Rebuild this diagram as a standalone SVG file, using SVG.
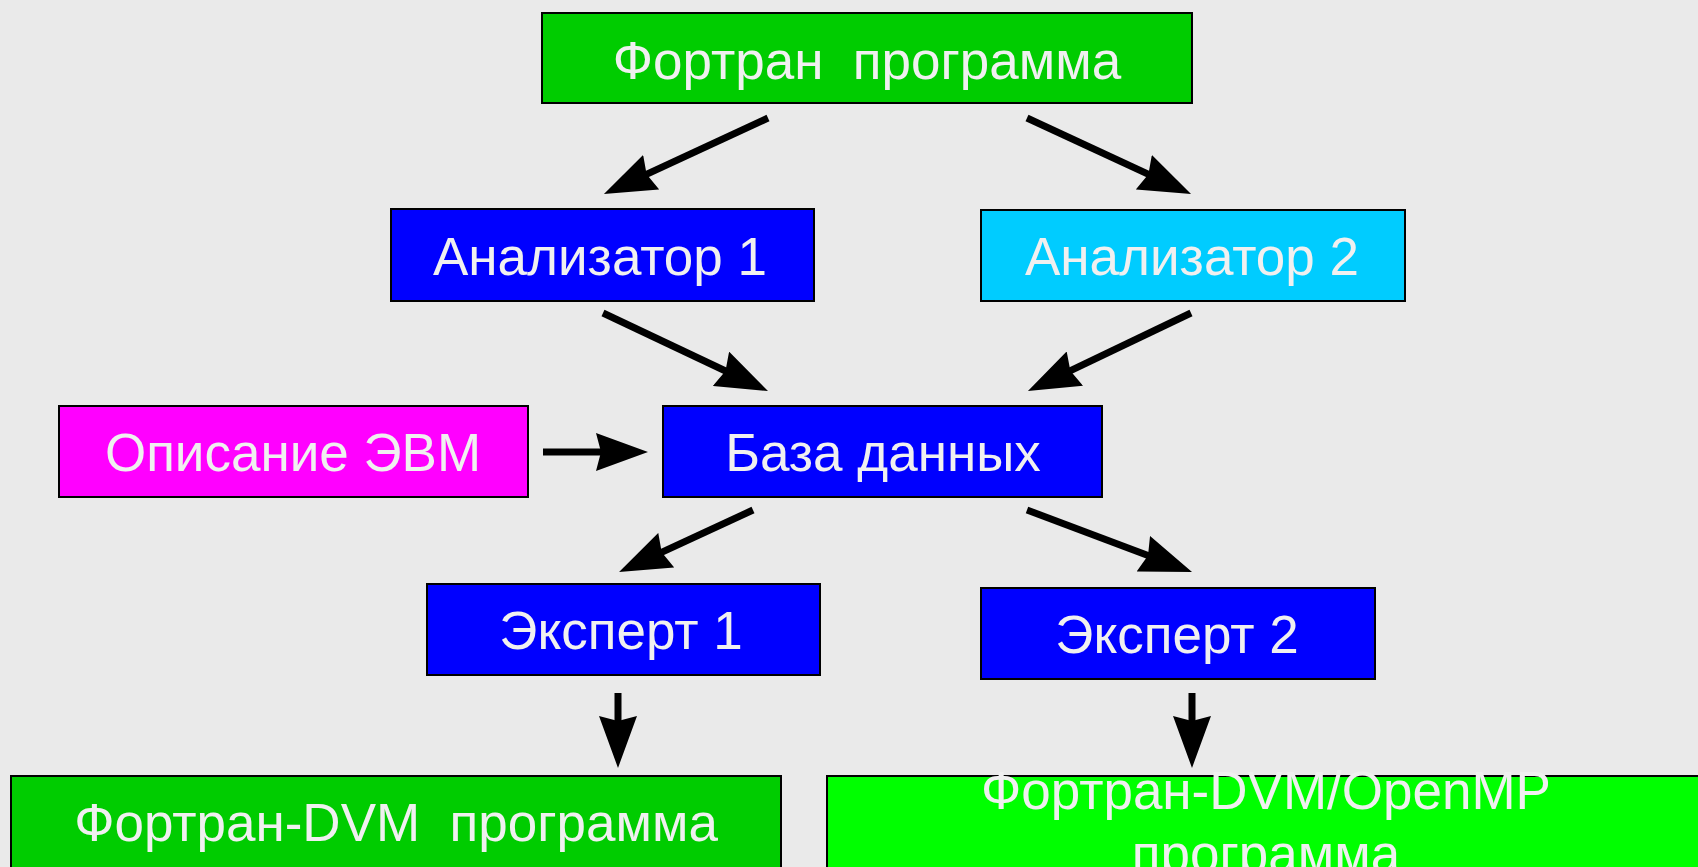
<svg xmlns="http://www.w3.org/2000/svg" width="1698" height="867" viewBox="0 0 1698 867">
<style>
.box{stroke:#000;stroke-width:2}
.t{font-family:"Liberation Sans",Arial,sans-serif;font-size:53px;fill:#F0F0F0;text-anchor:middle;white-space:pre}
.c{stroke:#000;stroke-width:7;fill:none;marker-end:url(#ah)}
</style>
<defs>
<marker id="ah" viewBox="0 0 52 38" refX="32" refY="19" markerWidth="52" markerHeight="38" markerUnits="userSpaceOnUse" orient="auto">
<path d="M0,0 L52,19 L0,38 L5,19 Z" fill="#000"/>
</marker>
</defs>
<rect width="1698" height="867" fill="#EAEAEA"/>
<g id="connectors">
<line class="c" x1="768" y1="118" x2="622.1" y2="185.6"/>
<line class="c" x1="1027" y1="118" x2="1172.9" y2="185.6"/>
<line class="c" x1="603" y1="313" x2="749.9" y2="382.5"/>
<line class="c" x1="1191" y1="313" x2="1046" y2="382.4"/>
<line class="c" x1="543" y1="452" x2="628" y2="452"/>
<line class="c" x1="753" y1="510" x2="637.2" y2="563.6"/>
<line class="c" x1="1027" y1="510" x2="1173.3" y2="565"/>
<line class="c" x1="618" y1="693" x2="618" y2="748"/>
<line class="c" x1="1192" y1="693" x2="1192" y2="748"/>
</g>
<g id="fortran">
<rect class="box" x="542" y="13" width="650" height="90" fill="#00CC00"/>
<text class="t" x="867" y="79" xml:space="preserve">Фортран  программа</text>
</g>
<g id="analyzer1">
<rect class="box" x="391" y="209" width="423" height="92" fill="#0000FF"/>
<text class="t" x="600" y="275">Анализатор 1</text>
</g>
<g id="analyzer2">
<rect class="box" x="981" y="210" width="424" height="91" fill="#00CCFF"/>
<text class="t" x="1192" y="275">Анализатор 2</text>
</g>
<g id="evm">
<rect class="box" x="59" y="406" width="469" height="91" fill="#FF00FF"/>
<text class="t" x="293" y="471">Описание ЭВМ</text>
</g>
<g id="db">
<rect class="box" x="663" y="406" width="439" height="91" fill="#0000FF"/>
<text class="t" x="883" y="471">База данных</text>
</g>
<g id="expert1">
<rect class="box" x="427" y="584" width="393" height="91" fill="#0000FF"/>
<text class="t" x="621" y="649">Эксперт 1</text>
</g>
<g id="expert2">
<rect class="box" x="981" y="588" width="394" height="91" fill="#0000FF"/>
<text class="t" x="1177" y="653">Эксперт 2</text>
</g>
<g id="fdvm">
<rect class="box" x="11" y="776" width="770" height="95" fill="#00CC00"/>
<text class="t" x="396" y="841" xml:space="preserve">Фортран-DVM  программа</text>
</g>
<g id="fdvmomp">
<rect class="box" x="827" y="776" width="878" height="95" fill="#00FF00"/>
<text class="t" x="1266" y="809">Фортран-DVM/OpenMP</text>
<text class="t" x="1266" y="872">программа</text>
</g>
</svg>
